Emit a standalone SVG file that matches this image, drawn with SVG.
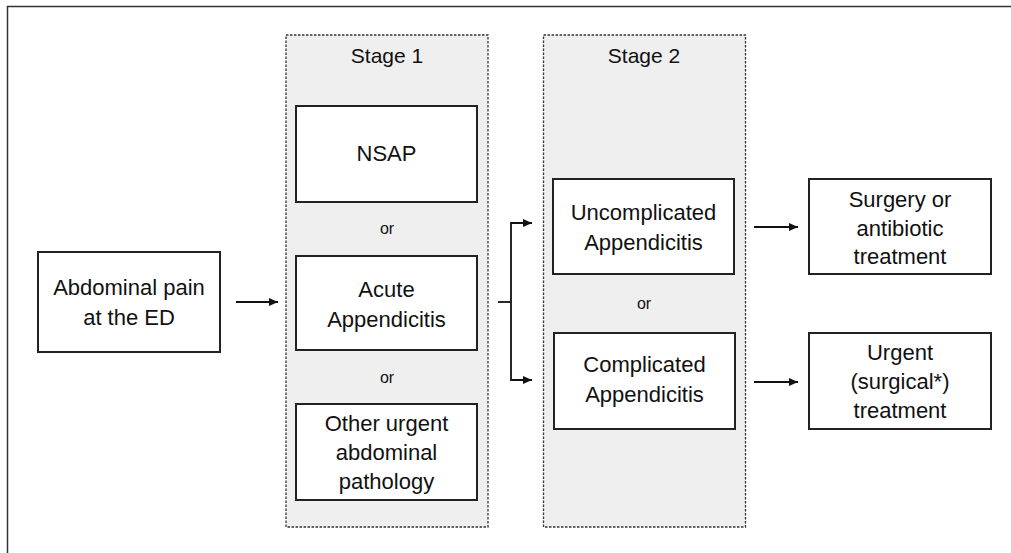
<svg xmlns="http://www.w3.org/2000/svg" width="1011" height="553" viewBox="0 0 1011 553">
<style>
text{font-family:"Liberation Sans",Arial,sans-serif;fill:#111;text-anchor:middle}
.t{font-size:22px}
.s{font-size:21px}
.o{font-size:16px}
.stage{fill:#efefef;stroke:#333;stroke-width:1.3;stroke-dasharray:2.5 1.5}
.box{fill:#fff;stroke:#222;stroke-width:2}
.ln{fill:none;stroke:#111;stroke-width:1.8}
</style>
<defs>
<marker id="ah" markerWidth="9" markerHeight="8" refX="9" refY="4" orient="auto" markerUnits="userSpaceOnUse">
<path d="M0,0 L9,4 L0,8 z" fill="#111"/>
</marker>
</defs>
<rect width="1011" height="553" fill="#fff"/>
<path d="M7.5,553 V6.5 H1011" fill="none" stroke="#333" stroke-width="1.5"/>

<g id="stage1">
<rect class="stage" x="286" y="35" width="202" height="492"/>
<text class="s" x="387" y="63">Stage 1</text>
<text class="o" x="387" y="234">or</text>
<text class="o" x="387" y="383">or</text>
</g>
<g id="stage2">
<rect class="stage" x="543.5" y="35" width="202" height="492"/>
<text class="s" x="644" y="63">Stage 2</text>
<text class="o" x="644" y="309">or</text>
</g>

<g id="abdominal">
<rect class="box" x="38" y="252" width="182" height="100"/>
<text class="t" x="129" y="295">Abdominal pain</text>
<text class="t" x="129" y="325">at the ED</text>
</g>
<g id="nsap">
<rect class="box" x="296" y="106" width="181" height="96"/>
<text class="t" x="386.5" y="161">NSAP</text>
</g>
<g id="acute">
<rect class="box" x="296" y="256" width="181" height="94"/>
<text class="t" x="386.5" y="297">Acute</text>
<text class="t" x="386.5" y="327">Appendicitis</text>
</g>
<g id="other">
<rect class="box" x="296" y="404" width="181" height="96"/>
<text class="t" x="386.5" y="431">Other urgent</text>
<text class="t" x="386.5" y="460">abdominal</text>
<text class="t" x="386.5" y="489">pathology</text>
</g>
<g id="uncomplicated">
<rect class="box" x="553" y="179" width="181" height="95"/>
<text class="t" x="643.5" y="220">Uncomplicated</text>
<text class="t" x="643.5" y="250">Appendicitis</text>
</g>
<g id="complicated">
<rect class="box" x="554" y="333" width="181" height="96"/>
<text class="t" x="644.5" y="372">Complicated</text>
<text class="t" x="644.5" y="402">Appendicitis</text>
</g>
<g id="surgery">
<rect class="box" x="809" y="179" width="182" height="95"/>
<text class="t" x="900" y="207">Surgery or</text>
<text class="t" x="900" y="236">antibiotic</text>
<text class="t" x="900" y="264">treatment</text>
</g>
<g id="urgent">
<rect class="box" x="809" y="333" width="182" height="96"/>
<text class="t" x="900" y="360">Urgent</text>
<text class="t" x="900" y="389">(surgical*)</text>
<text class="t" x="900" y="418">treatment</text>
</g>

<g id="connectors">
<path class="ln" d="M236,302 H278" marker-end="url(#ah)"/>
<path class="ln" d="M498,302 H511"/>
<path class="ln" d="M532,223 H511 V380 H532" marker-end="url(#ah)"/>
<path class="ln" d="M511,223 H532" marker-end="url(#ah)"/>
<path class="ln" d="M754,227 H798" marker-end="url(#ah)"/>
<path class="ln" d="M754,382 H798" marker-end="url(#ah)"/>
</g>
</svg>
